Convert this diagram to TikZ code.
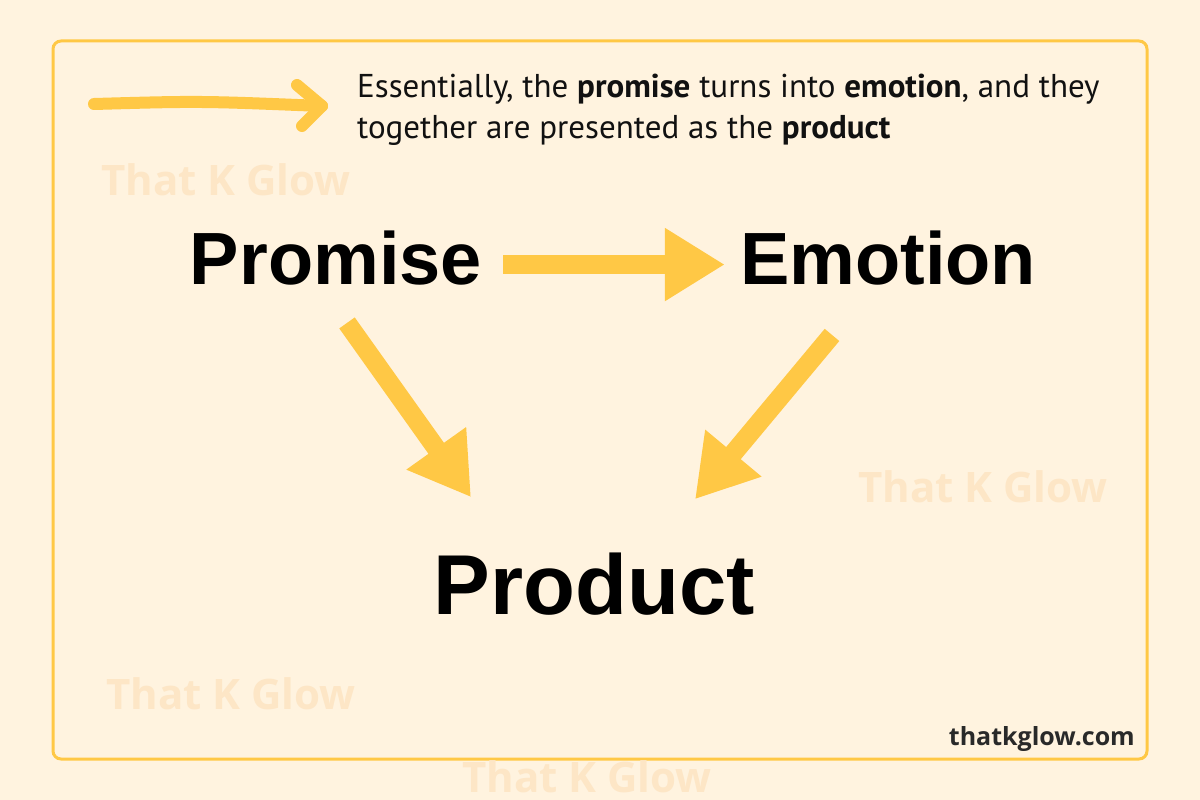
\documentclass[tikz,border=0pt]{standalone}
\usepackage{fontspec}
\setmainfont{PT Sans}
\newfontfamily\headfont{Liberation Sans}
\newfontfamily\markfont{Open Sans}
\usetikzlibrary{arrows.meta}
\definecolor{cream}{HTML}{FFF3DF}
\definecolor{glow}{HTML}{FFC845}
\definecolor{faint}{HTML}{FDE6C6}
\definecolor{ink}{HTML}{111111}
\tikzset{%
    word/.style={%
        font=\headfont\bfseries\fontsize{74}{80}\selectfont,%
        text=black,%
        inner sep=0pt,%
        anchor=base%
    },%
    bigword/.style={%
        word,%
        font=\headfont\bfseries\fontsize{85}{90}\selectfont%
    },%
    bigarrow/.style={%
        draw=glow,%
        line width=19pt,%
        -{Triangle[width=69pt,length=60pt]}%
    },%
    handarrow/.style={%
        draw=glow,%
        line width=12pt,%
        line cap=round,%
        line join=round%
    },%
    watermark/.style={%
        font=\markfont\bfseries\fontsize{42}{44}\selectfont,%
        text=faint,%
        inner sep=0pt%
    },%
    blurb/.style={%
        font=\fontsize{33}{41}\selectfont,%
        text=ink,%
        align=left,%
        inner sep=0pt,%
        anchor=base west%
    },%
    site/.style={%
        font=\markfont\bfseries\fontsize{25}{28}\selectfont,%
        text=ink!90,%
        inner sep=0pt,%
        anchor=base east%
    }%
}
\begin{document}
\begin{tikzpicture}[x=1pt,y=-1pt]
    \fill[cream] (0,0) rectangle (1200,800);
    \draw[glow, line width=3pt, rounded corners=8pt] (53,41) rectangle (1147,759);
    \node[watermark] (mark1) at (226,180) {That K Glow};
    \node[watermark] (mark2) at (983,487) {That K Glow};
    \node[watermark] (mark3) at (231,694) {That K Glow};
    \node[watermark] (mark4) at (587,777) {That K Glow};
    \coordinate (handtail) at (94,104);
    \coordinate (handtip) at (322,106);
    \draw[handarrow] (handtail) .. controls (200,101) .. (handtip);
    \draw[handarrow] (297,85) -- (handtip) -- (302,126);
    \node[blurb] (note) at (357,138) {Essentially, the \textbf{promise} turns into \textbf{emotion}, and they\\together are presented as the \textbf{product}};
    \node[word] (promise) at (336,284) {Promise};
    \node[word] (emotion) at (888,284) {Emotion};
    \node[bigword] (product) at (594,614) {Product};
    \draw[bigarrow] ([shift={(21,7)}]promise.east) -- ([shift={(-15,7)}]emotion.west);
    \draw[bigarrow] ([shift={(11,38)}]promise.south) -- ([shift={(-123,-55)}]product.north);
    \draw[bigarrow] ([shift={(-56,50)}]emotion.south) -- ([shift={(101,-53)}]product.north);
    \node[site] (url) at (1135,745) {thatkglow.com};
\end{tikzpicture}
\end{document}
